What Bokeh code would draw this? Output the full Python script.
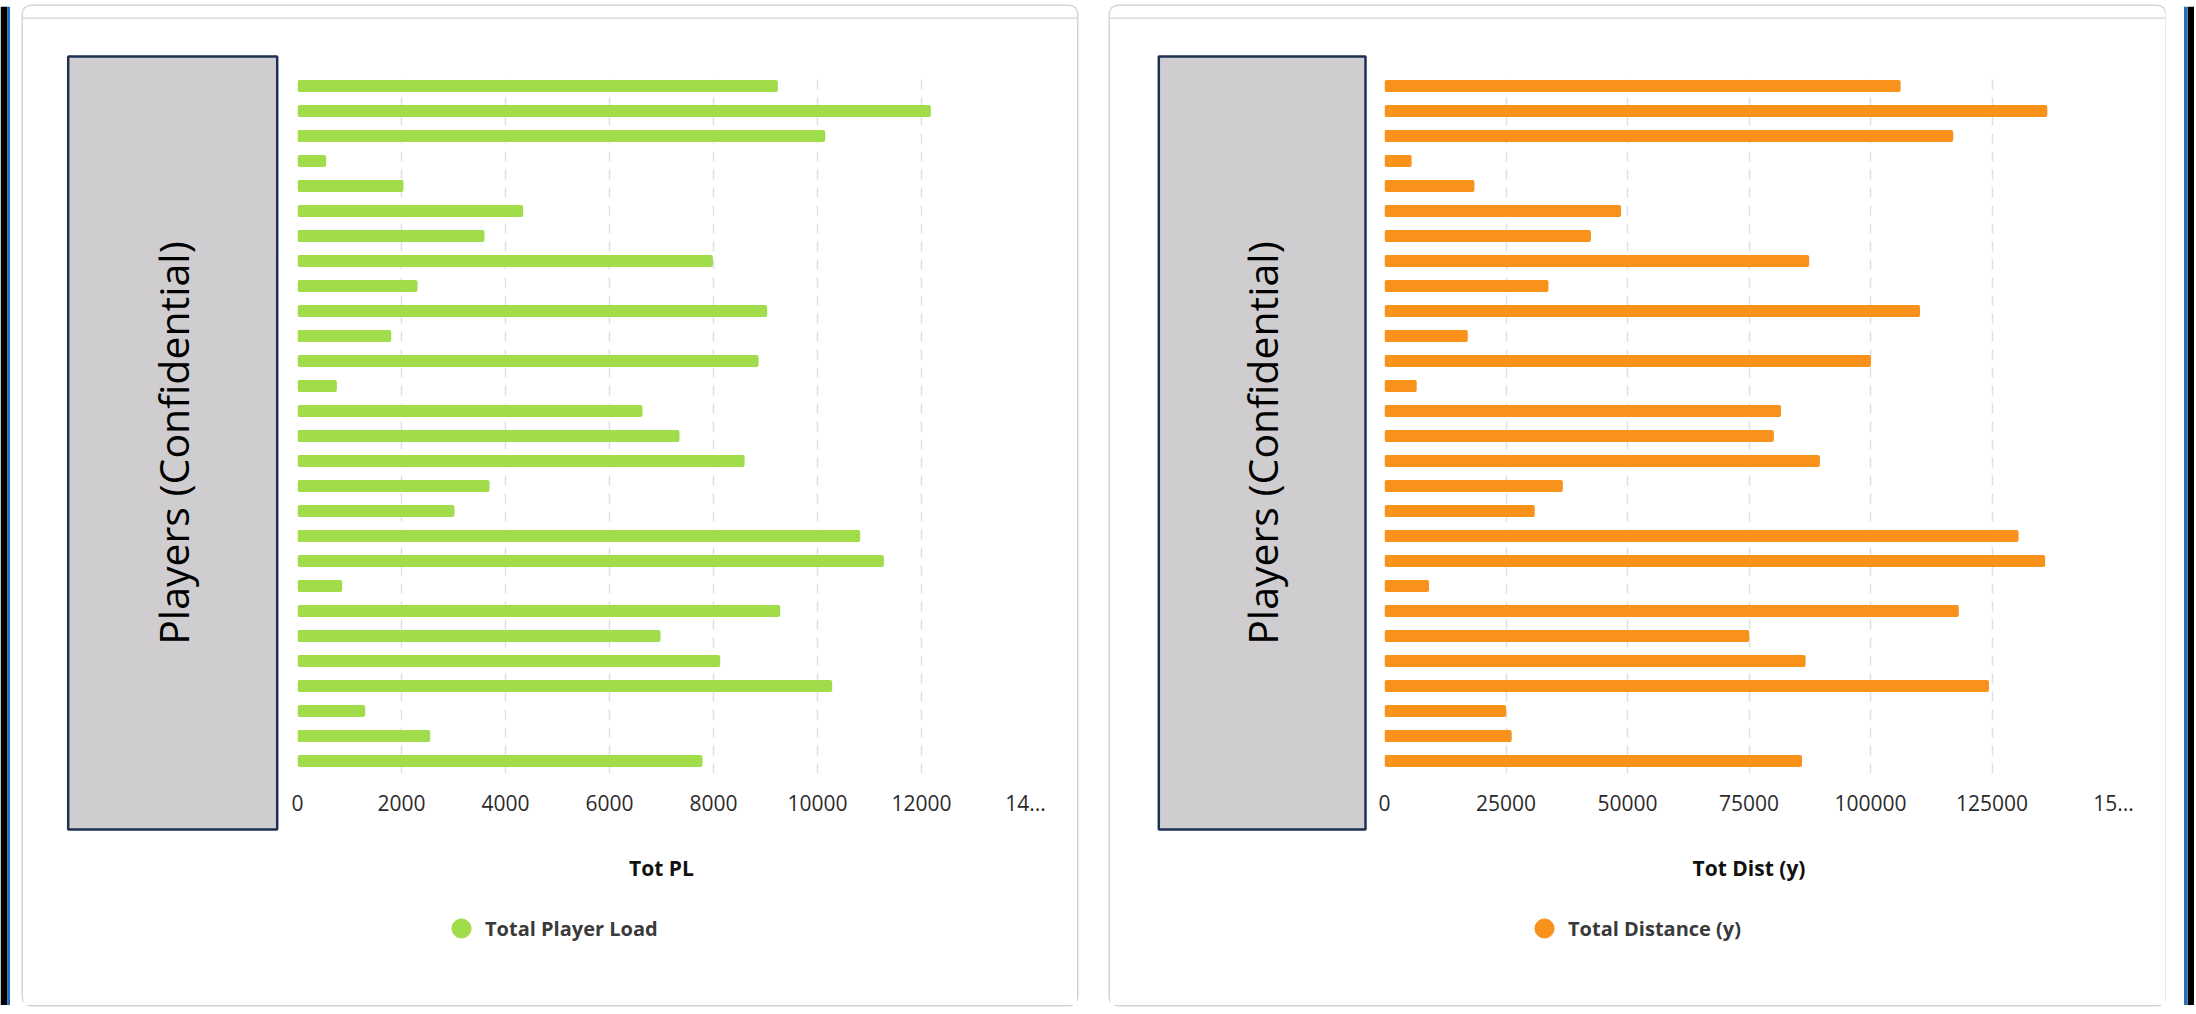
import math
from bokeh.plotting import figure
from bokeh.models import (FactorRange, Range1d, FixedTicker, NumeralTickFormatter,
                          Legend, LegendItem, HBar, Spacer)
from bokeh.core.properties import value
from bokeh.layouts import row, column
from bokeh.embed import file_html
from bokeh.resources import INLINE

# ---------------- data ----------------
players = [f"Player {i}" for i in range(1, 29)]
total_player_load = [9238, 12180, 10148, 552, 2038, 4340, 3596, 7988, 2308, 9033,
                     1802, 8866, 757, 6635, 7346, 8597, 3693, 3019, 10821, 11277,
                     860, 9283, 6981, 8129, 10283, 1302, 2552, 7788]
total_distance = [106200, 136380, 117020, 5580, 18500, 48680, 42470, 87370, 33740, 110190,
                  17140, 100100, 6630, 81590, 80120, 89590, 36690, 30910, 130470, 135940,
                  9160, 118170, 75060, 86650, 124380, 25020, 26170, 85910]
pl_ticks = [0, 2000, 4000, 6000, 8000, 10000, 12000, 14000]
dist_ticks = [0, 25000, 50000, 75000, 100000, 125000, 150000]
pl_overrides = {14000: "14..."}
dist_overrides = {150000: "15..."}

FONT = "Open Sans"
HAS_BAR_RADIUS = "border_radius" in HBar.properties()

HEAD_H = 13       # card header strip
TOP_H = 885       # height of the chart part
LEG_H = 101       # height of the legend strip
BODY_H = TOP_H + LEG_H


def blank_fig(w, h, xr, yr):
    f = figure(width=w, height=h, x_range=xr, y_range=yr,
               output_backend="svg", toolbar_location=None,
               min_border=0, x_axis_location=None, y_axis_location=None)
    f.grid.visible = False
    f.outline_line_color = None
    f.background_fill_color = "white"
    f.border_fill_color = "white"
    return f


def box_panel(w, box_left, box_right, text_x):
    f = blank_fig(w, BODY_H, Range1d(0, w), Range1d(BODY_H, 0))
    f.quad(left=[box_left], right=[box_right], top=[37], bottom=[810],
           fill_color="#CFCDCF", line_color="#1F3152", line_width=2.5)
    f.text(x=[text_x], y=[423.5], text=["Players (Confidential)"],
           angle=math.pi / 2, text_align="center", text_baseline="middle",
           text_font=value(FONT), text_font_size="41px", text_color="#000000")
    return f


def bar_panel(values, ticks, overrides, axis_title, color, w, formatter=None):
    p = figure(width=w, height=TOP_H,
               y_range=FactorRange(factors=players[::-1]),
               x_range=Range1d(ticks[0], ticks[-1]),
               output_backend="svg", toolbar_location=None,
               min_border_left=10, min_border_right=52,
               min_border_top=54, min_border_bottom=TOP_H - 54 - 700,
               y_axis_location=None)
    p.outline_line_color = None
    p.background_fill_color = "white"
    p.border_fill_color = "white"
    p.ygrid.grid_line_color = None
    p.xgrid.ticker = FixedTicker(ticks=ticks)
    p.xgrid.grid_line_color = "#E0E0E0"
    p.xgrid.grid_line_width = 1.5
    p.xgrid.grid_line_dash = "10 8"

    ax = p.xaxis[0]
    ax.ticker = FixedTicker(ticks=ticks)
    if formatter is not None:
        ax.formatter = formatter
    ax.major_label_overrides = overrides
    ax.axis_line_color = None
    ax.major_tick_line_color = None
    ax.minor_tick_line_color = None
    ax.major_tick_out = 0
    ax.major_tick_in = 0
    ax.major_label_standoff = 21
    ax.major_label_text_font = FONT
    ax.major_label_text_font_size = "21px"
    ax.major_label_text_color = "#2B2B2B"
    ax.axis_label = axis_title
    ax.axis_label_text_font = FONT
    ax.axis_label_text_font_size = "21px"
    ax.axis_label_text_font_style = "bold"
    ax.axis_label_text_color = "#111111"
    ax.axis_label_standoff = 40

    bar_kw = dict(y=players, right=values, left=0, height=0.48,
                  fill_color=color, line_color=None)
    if HAS_BAR_RADIUS:
        bar_kw["border_radius"] = 2
    p.hbar(**bar_kw)
    return p


def legend_panel(w, label, color, vx):
    f = blank_fig(w, LEG_H, Range1d(0, 1), Range1d(0, 1))
    # a key glyph kept outside the visible range; only its legend swatch shows
    key = f.scatter(x=[-10], y=[-10], size=19, marker="circle",
                    fill_color=color, line_color=color)
    leg = Legend(items=[LegendItem(label=label, renderers=[key])],
                 location=(vx, 53), orientation="horizontal",
                 glyph_width=48, glyph_height=48, label_height=48,
                 label_standoff=0, padding=0, margin=0,
                 border_line_color=None, background_fill_alpha=0,
                 label_text_font=FONT, label_text_font_size="20px",
                 label_text_font_style="bold", label_text_color="#3A3A3A")
    f.add_layout(leg)
    return f


def card(card_w, box_w, box_left, box_right, text_x, values, ticks, overrides,
         axis_title, legend_label, color, legend_vx, formatter=None):
    header = Spacer(width=card_w, height=HEAD_H,
                    styles={"box-shadow": "inset 0 -1.5px 0 0 #DCDCDC"})
    right_w = card_w - box_w
    chart_col = column(bar_panel(values, ticks, overrides, axis_title, color,
                                 right_w, formatter),
                       legend_panel(right_w, legend_label, color, legend_vx))
    body = row(box_panel(box_w, box_left, box_right, text_x), chart_col)
    return column(header, body,
                  styles={"box-shadow": "0 0 0 1.5px #D4D4D4",
                          "border-radius": "8px"})


card1 = card(1054, 264, 44.7, 253.7, 149.2, total_player_load, pl_ticks,
             pl_overrides, "Tot PL", "Total Player Load", "#A1DD4B", 140)
card2 = card(1055, 264, 48.3, 255.0, 151.7, total_distance, dist_ticks,
             dist_overrides, "Tot Dist (y)", "Total Distance (y)", "#F8921A", 136,
             formatter=NumeralTickFormatter(format="0"))

FULL_H = HEAD_H + BODY_H  # 999

# window edges of the original screenshot
top_strip = blank_fig(2194, 6, Range1d(0, 2194), Range1d(6, 0))
top_strip.quad(left=[0], right=[2194], top=[0], bottom=[4], fill_color="#000000", line_color=None)
top_strip.quad(left=[7], right=[2187], top=[4], bottom=[6], fill_color="#1A73C9", line_color=None)

left_edge = blank_fig(23, FULL_H, Range1d(0, 23), Range1d(FULL_H, 0))
left_edge.quad(left=[0], right=[7], top=[0], bottom=[FULL_H], fill_color="#000000", line_color=None)
left_edge.quad(left=[7], right=[9.5], top=[0], bottom=[FULL_H], fill_color="#1A73C9", line_color=None)

gap = Spacer(width=33, height=FULL_H)

right_edge = blank_fig(29, FULL_H, Range1d(0, 29), Range1d(FULL_H, 0))
right_edge.quad(left=[18.5], right=[21.5], top=[0], bottom=[FULL_H], fill_color="#1A73C9", line_color=None)
right_edge.quad(left=[22], right=[29], top=[0], bottom=[FULL_H], fill_color="#000000", line_color=None)

layout = column(top_strip, row(left_edge, card1, gap, card2, right_edge))
open("out.html", "w").write(file_html(layout, INLINE))
